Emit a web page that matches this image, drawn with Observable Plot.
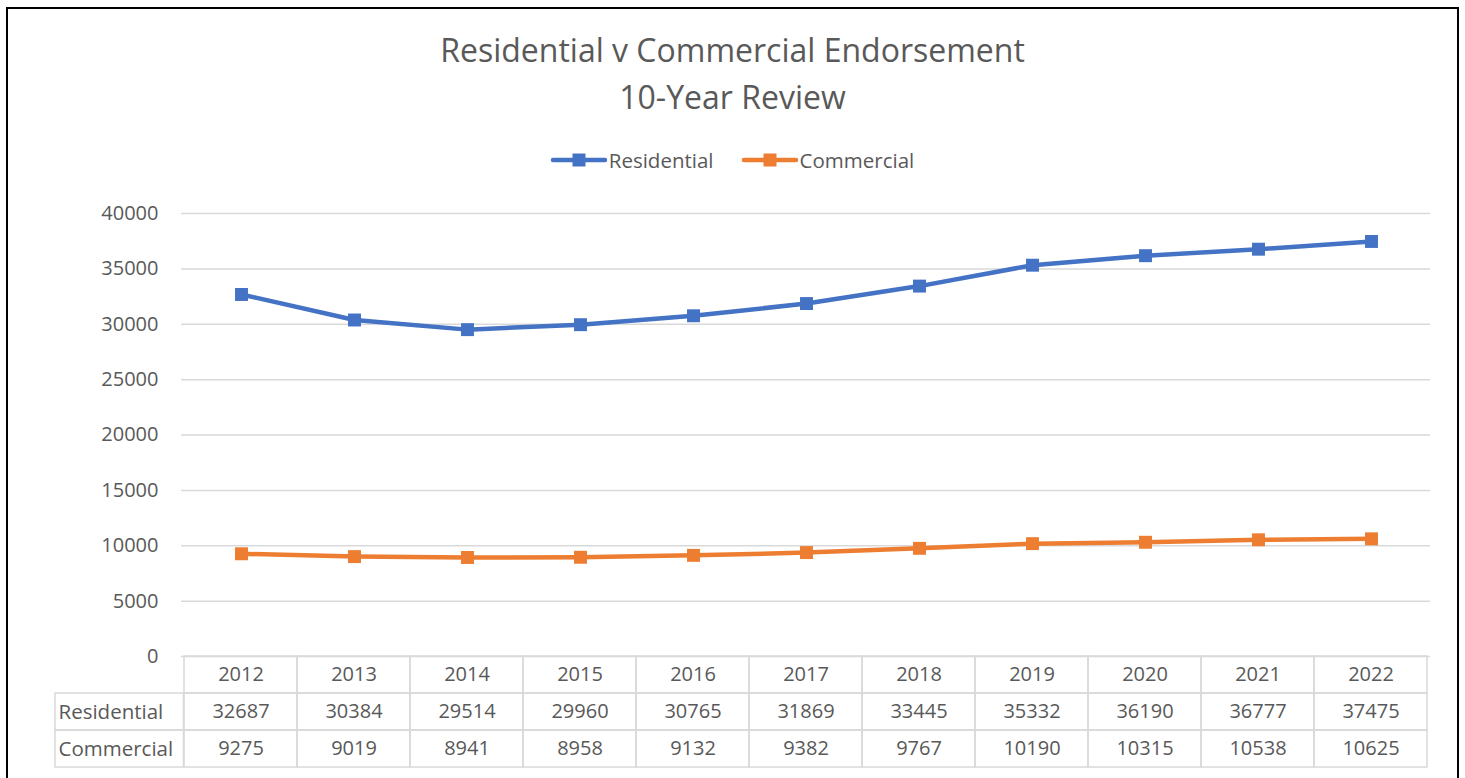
<!DOCTYPE html>
<html><head><meta charset="utf-8">
<script src="https://cdn.jsdelivr.net/npm/d3@7"></script>
<script src="https://cdn.jsdelivr.net/npm/@observablehq/plot@0.6"></script>
<style>
body{margin:0;background:#fff;font-family:"Open Sans",sans-serif;color:#595959;overflow:hidden}
#wrap{position:relative;width:1465px;height:778px;overflow:hidden;background:#fff}
#border{position:absolute;left:6px;top:7px;width:1453px;height:830px;border:2px solid #000;box-sizing:border-box}
#title{position:absolute;left:0;width:1465px;top:26px;text-align:center;font-size:32px;line-height:47px;color:#595959}
#legend{position:absolute;top:146px;left:0;width:1465px;text-align:center;font-size:20.5px;line-height:28px;color:#595959}
#legend .item{display:inline-flex;align-items:center;margin:0 14px}
#legend svg{margin-right:2px}
#chart{position:absolute;left:0;top:190px}
#table{position:absolute;left:0;top:655px}
svg{overflow:visible}
</style></head><body>
<div id="wrap">
  <div id="border"></div>
  <div id="title"></div>
  <div id="legend"></div>
  <div id="chart"></div>
  <div id="table"></div>
</div>
<script>
const titleLines = ["Residential v Commercial Endorsement", "10-Year Review"];
const years = ["2012","2013","2014","2015","2016","2017","2018","2019","2020","2021","2022"];
const seriesNames = ["Residential","Commercial"];
const residential = [32687,30384,29514,29960,30765,31869,33445,35332,36190,36777,37475];
const commercial = [9275,9019,8941,8958,9132,9382,9767,10190,10315,10538,10625];
const seriesColors = ["#4472C4","#ED7D31"];
const yTicks = [0,5000,10000,15000,20000,25000,30000,35000,40000];

const seriesValues = [residential, commercial];
const data = [];
seriesNames.forEach((s, i) => years.forEach((y, j) => data.push({series: s, year: y, value: seriesValues[i][j]})));

document.getElementById("title").innerHTML = titleLines.map(t => `<div>${t}</div>`).join("");
document.getElementById("legend").innerHTML = seriesNames.map((s, i) =>
  `<span class="item"><svg width="56" height="16"><line x1="2" x2="54" y1="8" y2="8" stroke="${seriesColors[i]}" stroke-width="4.5" stroke-linecap="round"/><rect x="21.5" y="1.5" width="13" height="13" fill="${seriesColors[i]}"/></svg>${s}</span>`
).join("");

const W = 1465, ML = 181, MR = 35;
const textStyle = {fontFamily: "'Open Sans', sans-serif", fontSize: "20px", color: "#595959", background: "transparent", overflow: "visible"};

const chart = Plot.plot({
  width: W, height: 490,
  marginLeft: ML, marginRight: MR, marginTop: 23, marginBottom: 24,
  style: textStyle,
  x: {type: "point", domain: years, padding: 0.5, axis: null},
  y: {domain: [0, 40000], axis: null},
  color: {domain: seriesNames, range: seriesColors},
  marks: [
    Plot.ruleY(yTicks, {stroke: "#d9d9d9", strokeWidth: 1.5}),
    Plot.axisY(yTicks, {tickSize: 0, tickPadding: 23, tickFormat: d => String(d), fill: "#595959", label: null}),
    Plot.line(data, {x: "year", y: "value", z: "series", stroke: "series", strokeWidth: 4.5}),
    Plot.dot(data, {x: "year", y: "value", fill: "series", symbol: "square", r: 7.3})
  ]
});
document.getElementById("chart").appendChild(chart);

const rows = ["year", ...seriesNames];
const bw = (W - ML - MR) / years.length;
const cells = [];
rows.forEach(r => years.forEach((y, j) => cells.push({row: r, year: y,
  label: r === "year" ? y : String(seriesValues[seriesNames.indexOf(r)][j])})));

const table = Plot.plot({
  width: W, height: 115,
  marginLeft: ML, marginRight: MR, marginTop: 1, marginBottom: 3,
  style: textStyle,
  x: {type: "band", domain: years, padding: 0, axis: null},
  y: {type: "band", domain: rows, padding: 0, axis: null},
  marks: [
    Plot.cell(cells, {x: "year", y: "row", fill: "none", stroke: "#d9d9d9", strokeWidth: 1.5}),
    Plot.cell(seriesNames, {x: () => years[0], y: d => d, dx: -bw, insetLeft: -(129 - bw), fill: "none", stroke: "#d9d9d9", strokeWidth: 1.5}),
    Plot.text(cells, {x: "year", y: "row", text: "label", fill: "#595959", fontSize: 20}),
    Plot.text(seriesNames, {y: d => d, frameAnchor: "left", dx: -123, textAnchor: "start", text: d => d, fill: "#595959", fontSize: 20.5})
  ]
});
document.getElementById("table").appendChild(table);
</script>
</body></html>
